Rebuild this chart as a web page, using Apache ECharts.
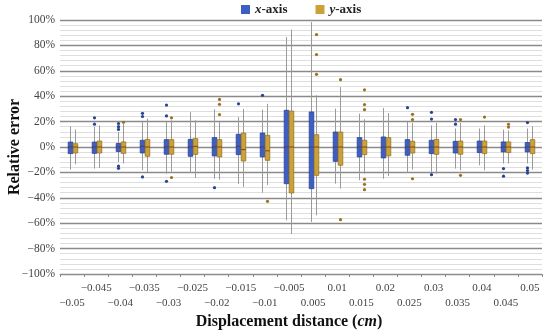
<!DOCTYPE html>
<html><head><meta charset="utf-8">
<script src="https://cdn.jsdelivr.net/npm/echarts@6/dist/echarts.min.js"></script>
<style>html,body{margin:0;padding:0;background:#fff}#c{width:550px;height:335px}</style>
</head><body><div id="c"></div>
<script>
const categories = ['\u22120.05','\u22120.045','\u22120.04','\u22120.035','\u22120.03','\u22120.025','\u22120.02','\u22120.015','\u22120.01','\u22120.005',
  '0.005','0.01','0.015','0.02','0.025','0.03','0.035','0.04','0.045','0.05'];
const yTicks = [-100,-80,-60,-40,-20,0,20,40,60,80,100];

// x-axis (blue) series: whisker low, Q1, median, Q3, whisker high (%)
const xLow  = [-17.8,-17,-11.8,-18.3,-21,-20.5,-25,-29,-36,-57.7,-59,-28.9,-26.2,-25,-20,-19.5,-17,-14.4,-13,-13];
const xQ1   = [-5.2,-5,-3.6,-4.7,-5.7,-7.3,-7,-6,-7.8,-28.9,-32.8,-11.3,-7.8,-8.6,-6.5,-5.2,-4.7,-4.4,-3.9,-3.9];
const xMed  = [0,0,0,0.5,0,0,0,0.5,0,0,0,0,0,0,0,0,0,0,0,0];
const xQ3   = [3.9,3.9,2.8,5.3,5.8,6,7.4,10,11,28.9,27.6,11.8,7.4,7.9,5.8,5.3,4.5,4.7,4,3.5];
const xHigh = [16.3,15.7,11.8,19.7,19.7,27.6,29.7,23.6,29.4,86.6,98.4,30.2,26.3,30.7,19.7,17,14.6,14.6,13.7,14.6];
const xOutliers = [[1,23],[1,18],[2,18.5],[2,16],[2,13.8],[2,-15],[2,-16.8],[3,26.5],[3,24],[3,-23.6],
  [4,33],[4,24.5],[4,-27],[6,-32],[7,34],[8,40.7],[14,31],[15,27.3],[15,22],[15,-21.8],
  [16,21.6],[16,18],[18,-17],[18,-23],[19,19.2],[19,-16.5],[19,-18.5],[19,-20.5]];

// y-axis (orange) series
const yLow  = [-13.5,-16.5,-13,-19.7,-19.5,-24.4,-25.7,-31.5,-30,-68.5,-53.8,-32.8,-21,-22.8,-17.8,-21,-18.3,-18.3,-13,-17.8];
const yQ1   = [-4.7,-4.7,-5,-7.3,-5.7,-5.8,-7.8,-11,-10.5,-36.2,-22.3,-14.4,-6,-7,-4.7,-5.8,-5.7,-5.2,-4.4,-5.2];
const yMed  = [0,0,0,0,0,0.5,0,-2,-3,0,0,0,0,0,0,0,0,0,0,0];
const yQ3   = [2.6,4.7,4,6,5.8,6.6,5.8,11,9.2,28.3,9.7,11.8,5.3,7.4,4.5,6,4.7,4.7,4,5.8];
const yHigh = [13.7,17,18.4,22.3,21,21,19.7,30,34,92.4,40.7,47.2,21.8,26.8,19,19,19,17,13,16.3];
const yOutliers = [[2,19.5],[4,23],[4,-24],[6,37.5],[6,33.6],[6,25.5],[8,-42.8],[10,88.5],[10,72.8],[10,57.2],
  [11,53],[11,-57.2],[12,45],[12,33.4],[12,29.4],[12,-25.4],[12,-29.4],[12,-33.6],[14,25.7],[14,21.6],[14,-25],
  [16,21.6],[16,-22.3],[17,23.6],[18,17.9],[18,15.7]];

const SERIF = '"Liberation Serif","DejaVu Serif",serif';
const BLUE = '#3d5fc4', BLUE_D = '#2a4390';
const GOLD = '#cda13a', GOLD_D = '#97731f';

function boxRender(side, fill, stroke){
  return function(params, api){
    const i = api.value(0);
    const bw = api.size([1,0])[0];
    const w = bw*0.19;
    const off = side*bw*0.103;
    const pL = api.coord([i, api.value(1)]);
    const p1 = api.coord([i, api.value(2)]);
    const pM = api.coord([i, api.value(3)]);
    const p3 = api.coord([i, api.value(4)]);
    const pH = api.coord([i, api.value(5)]);
    const x = Math.round(pL[0] + off) + 0.5;
    return {type:'group', children:[
      {type:'line', shape:{x1:x,y1:pH[1],x2:x,y2:pL[1]}, style:{stroke:'#9a9a9a',lineWidth:1}},
      {type:'rect', shape:{x:x-w/2,y:p3[1],width:w,height:p1[1]-p3[1]}, style:{fill:fill,stroke:stroke,lineWidth:0.8}},
      {type:'line', shape:{x1:x-w/2,y1:pM[1],x2:x+w/2,y2:pM[1]}, style:{stroke:'#6b2c22',lineWidth:0.8}}
    ]};
  };
}
function dotRender(side, color){
  return function(params, api){
    const i = api.value(0);
    const bw = api.size([1,0])[0];
    const off = side*bw*0.103;
    const p = api.coord([i, api.value(1)]);
    return {type:'circle', shape:{cx:Math.round(p[0]+off)+0.5, cy:p[1], r:1.6}, style:{fill:color}};
  };
}

const chart = echarts.init(document.getElementById('c'));
chart.setOption({
  animation:false,
  grid:{left:60,right:8,top:20,bottom:61,containLabel:false,outerBoundsMode:'none'},
  legend:{
    data:['x-axis','y-axis'], top:1, left:236, padding:[2,5], icon:'rect', itemWidth:9, itemHeight:9, itemGap:28,
    formatter: n => '{i|'+n[0]+'}{b|'+n.slice(1)+'}',
    textStyle:{rich:{
      i:{fontFamily:SERIF,fontStyle:'italic',fontWeight:'bold',fontSize:13,color:'#222'},
      b:{fontFamily:SERIF,fontWeight:'bold',fontSize:13,color:'#222'}
    }}
  },
  xAxis:{
    type:'category', data:categories,
    axisLine:{onZero:false, lineStyle:{color:'#8c8c8c',width:1}},
    axisTick:{show:true,length:3,lineStyle:{color:'#8c8c8c'}},
    axisLabel:{interval:0, margin:7, fontFamily:SERIF, fontSize:11, color:'#444', lineHeight:15, hideOverlap:false,
      formatter:(v,idx)=> idx%2===1 ? v : '\n'+v},
    splitLine:{show:false}
  },
  yAxis:{
    type:'value', min:-100, max:100, interval:20,
    axisLine:{show:false}, axisTick:{show:false},
    axisLabel:{fontFamily:SERIF,fontSize:11.5,color:'#444',margin:5,
      formatter:v=> (v<0?'\u2212'+(-v):v)+'%'},
    splitLine:{lineStyle:{color:'#8a8a8a',width:1.3}},
    minorTick:{show:false, splitNumber:5},
    minorSplitLine:{show:true,lineStyle:{color:'#dedede',width:1}}
  },
  graphic:[{
    type:'text', x:289, y:322,
    style:{
      text:'{b|Displacement distance (}{i|cm}{b|)}',
      align:'center', verticalAlign:'middle',
      rich:{
        b:{fontFamily:SERIF,fontWeight:'bold',fontSize:16,fill:'#111'},
        i:{fontFamily:SERIF,fontWeight:'bold',fontStyle:'italic',fontSize:16,fill:'#111'}
      }
    }
  },{
    type:'text', x:15, y:147, rotation:Math.PI/2,
    style:{text:'Relative error', align:'center', verticalAlign:'middle',
      font:'bold 16px "Liberation Serif","DejaVu Serif",serif', fill:'#111'}
  }],
  series:[
    {name:'x-axis', type:'custom', itemStyle:{color:BLUE}, renderItem:boxRender(-1,BLUE,BLUE_D),
      encode:{x:0,y:[1,2,3,4,5]},
      data:categories.map((c,i)=>[i,xLow[i],xQ1[i],xMed[i],xQ3[i],xHigh[i]])},
    {name:'y-axis', type:'custom', itemStyle:{color:GOLD}, renderItem:boxRender(1,GOLD,GOLD_D),
      encode:{x:0,y:[1,2,3,4,5]},
      data:categories.map((c,i)=>[i,yLow[i],yQ1[i],yMed[i],yQ3[i],yHigh[i]])},
    {name:'x-axis', type:'custom', itemStyle:{color:BLUE}, renderItem:dotRender(-1,BLUE_D),
      encode:{x:0,y:1}, data:xOutliers},
    {name:'y-axis', type:'custom', itemStyle:{color:GOLD}, renderItem:dotRender(1,GOLD_D),
      encode:{x:0,y:1}, data:yOutliers}
  ]
});
</script></body></html>
